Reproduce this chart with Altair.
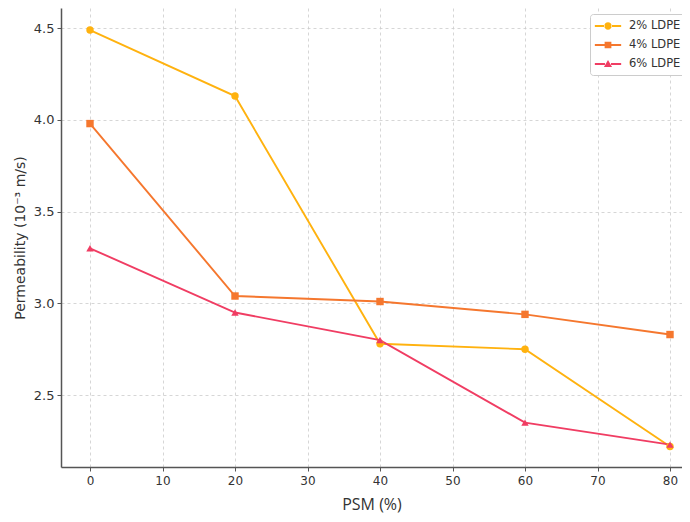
import altair as alt
import pandas as pd

psm = [0, 20, 40, 60, 80]
ldpe2 = [4.49, 4.13, 2.78, 2.75, 2.22]
ldpe4 = [3.98, 3.04, 3.01, 2.94, 2.83]
ldpe6 = [3.30, 2.95, 2.80, 2.35, 2.23]
series = ["2% LDPE", "4% LDPE", "6% LDPE"]
colors = ["#FFB20F", "#F5772E", "#F03D63"]
shapes = ["circle", "square", "triangle-up"]

# legend glyphs: short line with the marker in the middle
bar = "M-1.95,-0.14H-0.45V0.14H-1.95Z M0.45,-0.14H1.95V0.14H0.45Z "
legend_paths = [
    bar + "M-0.55,0A0.55,0.55 0 1,0 0.55,0A0.55,0.55 0 1,0 -0.55,0Z",
    bar + "M-0.5,-0.5H0.5V0.5H-0.5Z",
    bar + "M0,-0.6L0.6,0.45H-0.6Z",
]

rows = []
for name, vals in zip(series, [ldpe2, ldpe4, ldpe6]):
    for x, v in zip(psm, vals):
        rows.append({"PSM": x, "Permeability": v, "Series": name})
df = pd.DataFrame(rows)

leg = alt.Legend(title=None, orient="none", legendX=529, legendY=6,
                 labelFont="DejaVu Sans", labelFontSize=11.5, labelColor="#333",
                 symbolSize=182, symbolStrokeWidth=0, symbolOpacity=1,
                 symbolOffset=6, labelOffset=14, rowPadding=6,
                 strokeColor="#cccccc", fillColor="white", padding=5,
                 cornerRadius=3)
color = alt.Color("Series:N", scale=alt.Scale(domain=series, range=colors), legend=leg)

xenc = alt.X("PSM:Q", scale=alt.Scale(domain=[-4, 81.655], nice=False, zero=False),
             axis=alt.Axis(title="PSM (%)", values=[0, 10, 20, 30, 40, 50, 60, 70, 80],
                           titleFontSize=16, titleFont="Open Sans", titleFontWeight="normal",
                           titlePadding=10, labelFontSize=12, labelFont="DejaVu Sans",
                           labelPadding=4))
yenc = alt.Y("Permeability:Q", scale=alt.Scale(domain=[2.108, 4.61], nice=False, zero=False),
             axis=alt.Axis(title="Permeability (10⁻³ m/s)", values=[2.5, 3.0, 3.5, 4.0, 4.5],
                           format=".1f", titleFontSize=14, titleFont="DejaVu Sans",
                           titleFontWeight="normal", titlePadding=6, labelFontSize=13,
                           labelFont="DejaVu Sans", labelPadding=3))

base = alt.Chart(df)
lines = base.mark_line(strokeWidth=1.9).encode(x=xenc, y=yenc, color=color, detail="Series:N")

point_layers = []
for name, shp in zip(series, shapes):
    point_layers.append(
        base.transform_filter(alt.datum.Series == name)
        .mark_point(filled=True, size=55, opacity=1, shape=shp)
        .encode(x=xenc, y=yenc, color=color)
    )

legend_layer = base.mark_point(filled=True, opacity=0).encode(
    x=xenc, y=yenc, color=color,
    shape=alt.Shape("Series:N", scale=alt.Scale(domain=series, range=legend_paths), legend=leg),
)

chart = alt.layer(lines, *point_layers, legend_layer).properties(
    width=621, height=459,
    autosize=alt.AutoSizeParams(type="none"),
    padding={"left": 53, "top": 0, "right": 0, "bottom": 47},
).configure_view(stroke=None).configure_axis(
    grid=True, gridColor="#cccccc", gridDash=[3, 3], gridWidth=0.8,
    domainColor="#555555", domainWidth=1.5, tickColor="#555555", tickSize=4,
    labelColor="#333333", titleColor="#333333",
)

chart.save("out.html", embed_options={"renderer": "svg", "actions": False})
